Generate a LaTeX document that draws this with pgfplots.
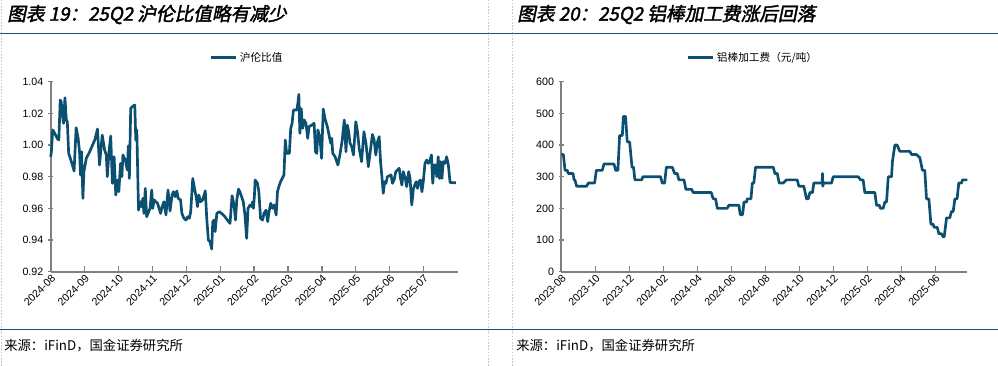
\documentclass[border=0pt]{standalone}
\usepackage{pgfplots}
\pgfplotsset{compat=1.18}
\usepackage{fontspec}
\setmainfont{Liberation Sans}
\newfontfamily\cjk{Noto Sans CJK SC}
\newfontfamily\cjktitle[FakeSlant=0.2,FakeBold=2]{Noto Sans CJK SC}
\definecolor{lineblue}{HTML}{0B4F71}
\definecolor{ruleblue}{HTML}{1F4E79}
\definecolor{axisgray}{HTML}{808080}
\pgfplotsset{
  mystyle/.style={
    scale only axis,
    anchor=south west,
    height=142.5pt,
    axis x line*=bottom,
    axis y line*=left,
    axis line style={axisgray, line width=1.4pt},
    major tick length=4pt,
    tick style={axisgray, line width=1pt},
    xtick align=inside,
    ytick align=center,
    tick label style={font=\fontsize{8}{9}\selectfont, black},
    /pgf/number format/assume math mode=true,
    xticklabel style={rotate=45, anchor=north east, inner sep=1pt},
    legend style={draw=none, fill=none, font=\cjk\fontsize{8}{9}\selectfont, inner sep=0pt, anchor=center},
    legend image code/.code={\draw[#1] (0pt,0pt) -- (19pt,0pt);},
    clip=false,
  }
}
\begin{document}
\begin{tikzpicture}
\path[use as bounding box] (0pt,0pt) rectangle (748.5pt,274.5pt);
\draw[gray!45, dash pattern=on 1.2pt off 1.2pt, line width=0.6pt] (1.1pt,0pt) -- (1.1pt,274.5pt);
\draw[gray!45, dash pattern=on 1.2pt off 1.2pt, line width=0.6pt] (366pt,0pt) -- (366pt,274.5pt);
\draw[gray!45, dash pattern=on 1.2pt off 1.2pt, line width=0.6pt] (384pt,0pt) -- (384pt,274.5pt);
\draw[ruleblue, line width=1pt] (0pt,249.5pt) -- (748.5pt,249.5pt);
\draw[ruleblue, line width=1pt] (0pt,27.5pt) -- (748.5pt,27.5pt);

\node[anchor=west, inner sep=0pt] at (5.25pt,263.6pt) {\cjktitle\fontsize{14}{16}\selectfont 图表 19：25Q2 沪伦比值略有减少};
\node[anchor=west, inner sep=0pt] at (387.75pt,263.6pt) {\cjktitle\fontsize{14}{16}\selectfont 图表 20：25Q2 铝棒加工费涨后回落};
\node[anchor=west, inner sep=0pt] at (3pt,15pt) {\cjk\fontsize{10}{12}\selectfont 来源：iFinD，国金证券研究所};
\node[anchor=west, inner sep=0pt] at (387pt,15pt) {\cjk\fontsize{10}{12}\selectfont 来源：iFinD，国金证券研究所};

\begin{axis}[mystyle,
  at={(38.03pt,70.73pt)}, width=305.1pt,
  xmin=0, xmax=12, ymin=0.92, ymax=1.04,
  ytick={0.92,0.94,...,1.041},
  xtick={0,...,11},
  xticklabels={2024-08,2024-09,2024-10,2024-11,2024-12,2025-01,2025-02,2025-03,2025-04,2025-05,2025-06,2025-07},
  yticklabel style={/pgf/number format/fixed, /pgf/number format/fixed zerofill, /pgf/number format/precision=2},
  legend style={at={(0.483,1.126)}},
]
\addplot[lineblue, line width=2pt, line join=round] table {
x y
0.00 0.9926
0.02 0.9958
0.06 1.0095
0.12 1.0074
0.19 1.0042
0.24 1.0032
0.28 1.0284
0.31 1.0274
0.35 1.0179
0.38 1.0137
0.42 1.0299
0.46 1.0158
0.49 1.0147
0.53 0.9947
0.61 0.9895
0.69 0.9836
0.75 1.0109
0.81 1.0042
0.85 0.9958
0.88 0.9811
0.91 0.9958
0.95 0.9663
0.98 0.9832
1.05 0.9916
1.15 0.9958
1.30 1.0032
1.38 1.0101
1.44 0.9874
1.52 1.0063
1.59 0.9968
1.64 0.9937
1.67 0.9800
1.72 0.9958
1.77 1.0057
1.82 0.9758
1.87 0.9926
1.92 0.9684
1.97 0.9779
2.01 0.9705
2.06 0.9884
2.10 0.9800
2.13 0.9937
2.20 0.9905
2.26 0.9842
2.29 0.9994
2.32 0.9789
2.36 1.0232
2.44 1.0248
2.48 1.0253
2.51 1.0032
2.54 1.0095
2.59 0.9589
2.64 0.9642
2.67 0.9611
2.72 0.9663
2.75 0.9568
2.79 0.9726
2.83 0.9547
2.87 0.9568
2.93 0.9600
2.98 0.9716
3.01 0.9600
3.05 0.9653
3.10 0.9642
3.15 0.9632
3.20 0.9600
3.24 0.9568
3.29 0.9611
3.34 0.9642
3.40 0.9558
3.46 0.9716
3.52 0.9583
3.58 0.9684
3.62 0.9705
3.67 0.9674
3.72 0.9710
3.76 0.9663
3.83 0.9653
3.87 0.9568
3.93 0.9537
3.99 0.9526
4.04 0.9547
4.09 0.9537
4.13 0.9579
4.19 0.9789
4.25 0.9716
4.29 0.9674
4.33 0.9611
4.37 0.9684
4.42 0.9642
4.48 0.9653
4.56 0.9710
4.60 0.9547
4.65 0.9400
4.70 0.9389
4.75 0.9343
4.78 0.9516
4.82 0.9526
4.85 0.9453
4.90 0.9568
4.97 0.9579
5.04 0.9568
5.14 0.9547
5.21 0.9526
5.29 0.9505
5.35 0.9680
5.41 0.9621
5.45 0.9526
5.49 0.9653
5.54 0.9722
5.58 0.9705
5.63 0.9674
5.68 0.9642
5.73 0.9558
5.78 0.9410
5.82 0.9600
5.88 0.9621
5.93 0.9611
5.96 0.9642
5.98 0.9600
6.01 0.9684
6.03 0.9779
6.10 0.9758
6.14 0.9705
6.19 0.9537
6.25 0.9526
6.29 0.9568
6.35 0.9589
6.40 0.9516
6.44 0.9579
6.49 0.9632
6.54 0.9600
6.59 0.9621
6.65 0.9558
6.69 0.9705
6.73 0.9737
6.78 0.9768
6.84 0.9794
6.88 0.9810
6.92 1.0032
6.96 0.9947
7.04 0.9947
7.08 1.0105
7.12 1.0137
7.16 1.0221
7.26 1.0221
7.29 1.0263
7.32 1.0320
7.35 1.0074
7.39 1.0230
7.43 1.0105
7.48 1.0158
7.53 1.0137
7.58 1.0042
7.62 1.0116
7.70 1.0126
7.77 1.0137
7.81 0.9958
7.85 0.9947
7.88 1.0095
7.94 1.0053
7.99 0.9916
8.04 1.0227
8.09 1.0168
8.16 1.0116
8.22 1.0053
8.26 1.0011
8.29 1.0042
8.32 0.9947
8.39 0.9926
8.47 0.9874
8.53 0.9937
8.60 1.0032
8.66 1.0158
8.71 0.9958
8.75 1.0126
8.79 1.0084
8.83 1.0011
8.88 0.9989
8.93 0.9937
9.00 1.0147
9.05 1.0084
9.10 0.9979
9.17 0.9895
9.24 1.0084
9.30 1.0011
9.37 0.9863
9.42 0.9947
9.49 1.0067
9.54 1.0032
9.59 0.9937
9.64 1.0021
9.69 1.0053
9.73 0.9895
9.77 0.9800
9.81 0.9695
9.85 0.9768
9.89 0.9758
9.93 0.9800
9.99 0.9806
10.04 0.9811
10.08 0.9758
10.13 0.9779
10.18 0.9832
10.23 0.9842
10.28 0.9853
10.32 0.9789
10.36 0.9747
10.40 0.9832
10.46 0.9789
10.50 0.9737
10.56 0.9832
10.60 0.9789
10.65 0.9621
10.70 0.9726
10.74 0.9747
10.78 0.9768
10.82 0.9726
10.86 0.9768
10.91 0.9779
10.95 0.9705
10.99 0.9768
11.04 0.9884
11.09 0.9905
11.14 0.9884
11.19 0.9905
11.23 0.9937
11.27 0.9758
11.31 0.9874
11.35 0.9874
11.39 0.9800
11.43 0.9926
11.47 0.9789
11.50 0.9895
11.54 0.9789
11.58 0.9895
11.63 0.9884
11.68 0.9926
11.73 0.9874
11.78 0.9764
11.86 0.9762
11.95 0.9762
};
\addlegendentry{沪伦比值}
\end{axis}

\begin{axis}[mystyle,
  at={(420.98pt,70.73pt)}, width=304.6pt,
  xmin=0, xmax=23.9, ymin=0, ymax=600,
  ytick={0,100,...,600},
  xtick={0,2,...,22},
  xticklabels={2023-08,2023-10,2023-12,2024-02,2024-04,2024-06,2024-08,2024-10,2024-12,2025-02,2025-04,2025-06},
  legend style={at={(0.472,1.126)}},
]
\addplot[lineblue, line width=2pt, line join=round] table {
x y
0.00 370
0.12 370
0.22 320
0.35 320
0.41 310
0.69 310
0.75 290
0.80 290
0.90 270
1.49 270
1.59 280
1.96 280
2.06 320
2.41 320
2.51 340
3.10 340
3.20 320
3.33 320
3.43 430
3.59 430
3.65 490
3.78 490
3.88 410
4.02 410
4.16 330
4.25 330
4.33 290
4.73 290
4.80 300
5.84 300
5.94 280
6.08 280
6.18 330
6.53 330
6.67 310
6.82 310
6.92 290
7.22 290
7.33 260
7.67 260
7.76 250
8.82 250
8.94 230
9.08 230
9.18 200
9.76 200
9.86 210
10.45 210
10.53 180
10.67 180
10.75 220
10.90 220
10.94 230
11.16 230
11.24 280
11.33 280
11.43 330
12.47 330
12.57 310
12.71 310
12.82 280
13.06 280
13.25 290
13.88 290
13.98 270
14.27 270
14.43 230
14.53 230
14.63 250
14.78 250
14.86 280
15.22 280
15.35 280
15.37 310
15.39 270
15.43 280
15.90 280
16.00 300
17.47 300
17.61 290
17.76 290
17.86 250
18.45 250
18.55 210
18.71 210
18.78 200
18.94 200
19.04 220
19.14 220
19.24 300
19.43 300
19.49 350
19.63 400
19.76 400
19.92 380
20.51 380
20.61 370
20.90 370
21.10 360
21.25 320
21.39 320
21.49 230
21.63 230
21.75 150
21.88 150
21.94 140
22.12 140
22.22 120
22.37 120
22.47 110
22.53 110
22.67 170
22.86 170
22.96 190
23.06 190
23.16 230
23.29 230
23.39 280
23.55 280
23.61 290
23.90 290
};
\addlegendentry{铝棒加工费（元/吨）}
\end{axis}
\end{tikzpicture}
\end{document}
